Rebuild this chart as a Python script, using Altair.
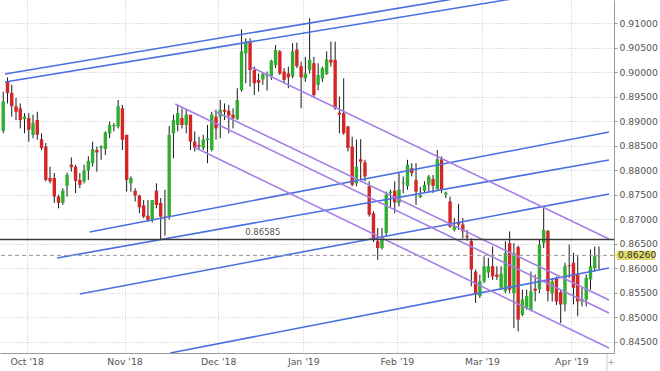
import json
import altair as alt
import pandas as pd

# ---------------- data ----------------
first_bar = -1
opens = [0.8880, 0.8980, 0.8957, 0.8930, 0.8926, 0.8904, 0.8906, 0.8872, 0.8902, 0.8863,
         0.8848, 0.8784, 0.8784, 0.8746, 0.8733, 0.8768, 0.8811, 0.8807, 0.8780, 0.8777,
         0.8799, 0.8814, 0.8841, 0.8845, 0.8843, 0.8875, 0.8889, 0.8889, 0.8926, 0.8872,
         0.8773, 0.8758, 0.8748, 0.8728, 0.8707, 0.8699, 0.8758, 0.8733, 0.8705, 0.8705,
         0.8875, 0.8892, 0.8906, 0.8892, 0.8913, 0.8858, 0.8851, 0.8845, 0.8861, 0.8841,
         0.8909, 0.8909, 0.8923, 0.8921, 0.8913, 0.8904, 0.8963, 0.9038, 0.9062, 0.9004,
         0.8984, 0.8985, 0.8992, 0.8992, 0.9014, 0.9042, 0.9001, 0.8997, 0.8991, 0.9046,
         0.9012, 0.8987, 0.9004, 0.9018, 0.8974, 0.8987, 0.8996, 0.9025, 0.9025, 0.8917,
         0.8916, 0.8889, 0.8848, 0.8773, 0.8822, 0.8816, 0.8767, 0.8712, 0.8655, 0.8641,
         0.8672, 0.8753, 0.8758, 0.8733, 0.8773, 0.8767, 0.8804, 0.8780, 0.8745, 0.8758,
         0.8770, 0.8782, 0.8761, 0.8822, 0.8750, 0.8736, 0.8678, 0.8695, 0.8689, 0.8666,
         0.8655, 0.8593, 0.8543, 0.8573, 0.8591, 0.8604, 0.8587, 0.8560, 0.8553, 0.8651,
         0.8549, 0.8643, 0.8505, 0.8519, 0.8515, 0.8558, 0.8557, 0.8651, 0.8676, 0.8549,
         0.8578, 0.8551, 0.8526, 0.8606, 0.8611, 0.8587, 0.8532, 0.8536, 0.8577, 0.8600,
         0.8624]
highs = [0.8960, 0.8989, 0.8974, 0.8947, 0.8936, 0.8916, 0.8916, 0.8913, 0.8919, 0.8875,
         0.8855, 0.8807, 0.8794, 0.8750, 0.8763, 0.8795, 0.8826, 0.8811, 0.8794, 0.8811,
         0.8828, 0.8858, 0.8848, 0.8851, 0.8879, 0.8899, 0.8896, 0.8943, 0.8933, 0.8872,
         0.8787, 0.8763, 0.8750, 0.8739, 0.8739, 0.8739, 0.8773, 0.8743, 0.8760, 0.8890,
         0.8913, 0.8931, 0.8926, 0.8923, 0.8913, 0.8879, 0.8868, 0.8872, 0.8892, 0.8919,
         0.8923, 0.8943, 0.8936, 0.8933, 0.8926, 0.8967, 0.9087, 0.9069, 0.9069, 0.9011,
         0.8997, 0.8999, 0.9001, 0.9025, 0.9055, 0.9045, 0.9008, 0.9011, 0.9059, 0.9060,
         0.9021, 0.9031, 0.9110, 0.9031, 0.9018, 0.9011, 0.9042, 0.9062, 0.9062, 0.8950,
         0.8987, 0.8890, 0.8868, 0.8862, 0.8863, 0.8821, 0.8777, 0.8716, 0.8682, 0.8682,
         0.8756, 0.8760, 0.8777, 0.8794, 0.8787, 0.8821, 0.8814, 0.8814, 0.8766, 0.8777,
         0.8790, 0.8790, 0.8841, 0.8828, 0.8756, 0.8746, 0.8702, 0.8731, 0.8702, 0.8678,
         0.8661, 0.8597, 0.8587, 0.8624, 0.8621, 0.8644, 0.8604, 0.8604, 0.8655, 0.8675,
         0.8651, 0.8646, 0.8556, 0.8556, 0.8593, 0.8587, 0.8658, 0.8726, 0.8678, 0.8580,
         0.8583, 0.8556, 0.8611, 0.8648, 0.8631, 0.8624, 0.8560, 0.8587, 0.8638, 0.8644,
         0.8644]
lows = [0.8875, 0.8936, 0.8909, 0.8902, 0.8885, 0.8875, 0.8858, 0.8865, 0.8862, 0.8841,
        0.8777, 0.8773, 0.8733, 0.8722, 0.8729, 0.8746, 0.8797, 0.8753, 0.8763, 0.8773,
        0.8780, 0.8807, 0.8797, 0.8821, 0.8831, 0.8865, 0.8879, 0.8885, 0.8841, 0.8756,
        0.8756, 0.8736, 0.8712, 0.8702, 0.8695, 0.8693, 0.8722, 0.8659, 0.8666, 0.8699,
        0.8824, 0.8879, 0.8885, 0.8875, 0.8841, 0.8838, 0.8843, 0.8841, 0.8814, 0.8838,
        0.8862, 0.8865, 0.8902, 0.8875, 0.8885, 0.8902, 0.8960, 0.8977, 0.8970, 0.8953,
        0.8960, 0.8974, 0.8962, 0.8984, 0.9008, 0.8994, 0.8977, 0.8967, 0.8987, 0.9008,
        0.8926, 0.8980, 0.8997, 0.8947, 0.8963, 0.8980, 0.8994, 0.9011, 0.8923, 0.8875,
        0.8872, 0.8838, 0.8767, 0.8767, 0.8777, 0.8777, 0.8705, 0.8653, 0.8617, 0.8638,
        0.8665, 0.8723, 0.8712, 0.8726, 0.8753, 0.8760, 0.8787, 0.8729, 0.8743, 0.8753,
        0.8756, 0.8753, 0.8760, 0.8753, 0.8743, 0.8682, 0.8675, 0.8678, 0.8661, 0.8656,
        0.8563, 0.8529, 0.8539, 0.8570, 0.8580, 0.8576, 0.8576, 0.8556, 0.8549, 0.8549,
        0.8478, 0.8471, 0.8502, 0.8515, 0.8512, 0.8532, 0.8549, 0.8641, 0.8532, 0.8532,
        0.8525, 0.8488, 0.8512, 0.8580, 0.8526, 0.8502, 0.8522, 0.8522, 0.8556, 0.8593,
        0.8597]
closes = [0.8940, 0.8957, 0.8930, 0.8919, 0.8902, 0.8909, 0.8882, 0.8896, 0.8872, 0.8845,
          0.8780, 0.8777, 0.8746, 0.8733, 0.8758, 0.8790, 0.8806, 0.8778, 0.8770, 0.8799,
          0.8819, 0.8843, 0.8836, 0.8848, 0.8877, 0.8892, 0.8892, 0.8930, 0.8862, 0.8780,
          0.8784, 0.8748, 0.8724, 0.8705, 0.8699, 0.8739, 0.8729, 0.8705, 0.8702, 0.8872,
          0.8902, 0.8916, 0.8892, 0.8913, 0.8858, 0.8845, 0.8848, 0.8862, 0.8865, 0.8913,
          0.8885, 0.8923, 0.8919, 0.8911, 0.8906, 0.8943, 0.9042, 0.9062, 0.9004, 0.8977,
          0.8978, 0.8996, 0.8995, 0.9023, 0.9045, 0.8997, 0.8984, 0.8989, 0.9042, 0.9012,
          0.8989, 0.8997, 0.9025, 0.8953, 0.8994, 0.9008, 0.9026, 0.9019, 0.8926, 0.8913,
          0.8875, 0.8845, 0.8770, 0.8807, 0.8817, 0.8787, 0.8709, 0.8658, 0.8641, 0.8665,
          0.8750, 0.8756, 0.8734, 0.8760, 0.8775, 0.8811, 0.8794, 0.8756, 0.8749, 0.8770,
          0.8787, 0.8768, 0.8822, 0.8761, 0.8754, 0.8685, 0.8686, 0.8689, 0.8675, 0.8663,
          0.8597, 0.8546, 0.8573, 0.8604, 0.8604, 0.8583, 0.8582, 0.8589, 0.8631, 0.8556,
          0.8631, 0.8495, 0.8536, 0.8543, 0.8553, 0.8554, 0.8648, 0.8678, 0.8553, 0.8573,
          0.8532, 0.8526, 0.8604, 0.8604, 0.8560, 0.8532, 0.8537, 0.8580, 0.8604, 0.8624,
          0.8626]

month_labels = ["Oct '18", "Nov '18", "Dec '18", "Jan '19", "Feb '19", "Mar '19", "Apr '19"]
month_first_bar = [5, 28, 50, 70, 92, 112, 133]

price_ticks = [0.845, 0.850, 0.855, 0.860, 0.865, 0.870, 0.875,
               0.880, 0.885, 0.890, 0.895, 0.900, 0.905, 0.910]

support_level = [0.86585]
last_price = [0.86260]

# trend lines (bar index / price at both ends)
blue_x1 = [-0.586, -0.586, 19.29, 11.67, 16.98, 38.25]
blue_y1 = [0.89960, 0.89797, 0.86737, 0.86207, 0.85473, 0.84270]
blue_x2 = [141.35, 141.35, 141.35, 141.35, 141.35, 141.35]
blue_y2 = [0.92020, 0.91814, 0.88777, 0.88206, 0.87512, 0.86003]

purple_x1 = [57.21, 39.41, 48.65, 43.80]
purple_y1 = [0.90103, 0.89348, 0.89205, 0.88471]
purple_x2 = [141.35, 141.35, 141.35, 141.35]
purple_y2 = [0.86595, 0.85085, 0.85350, 0.84371]

# ---------------- styling ----------------
GREEN = "#2fae2f"
RED = "#d42626"
BLUE = "#4a6fe0"
PURPLE = "#a67fe6"
FONT = "DejaVu Sans"

n = len(opens)
bars = pd.DataFrame({
    "i": list(range(first_bar, first_bar + n)),
    "open": opens, "high": highs, "low": lows, "close": closes,
})
bars["dir"] = ["up" if c >= o else "down" for o, c in zip(opens, closes)]
bars["body_lo"] = bars[["open", "close"]].min(axis=1)
bars["body_hi"] = bars[["open", "close"]].max(axis=1)

grid_vals = [m - 0.5 for m in month_first_bar]
label_map = {str(v): lab for v, lab in zip(grid_vals, month_labels)}
label_expr = json.dumps(label_map) + "[toString(datum.value)]"

x_scale = alt.Scale(domain=[-0.586, 141.35], nice=False, zero=False)
y_scale = alt.Scale(domain=[0.842695, 0.914691], nice=False, zero=False)

x_axis = alt.Axis(values=grid_vals, labelExpr=label_expr, grid=True, title=None,
                  ticks=False, labelPadding=4, domainColor="#999")
y_axis = alt.Axis(orient="right", values=price_ticks, format=".5f", grid=True,
                  title=None, tickSize=3, labelPadding=2, domainColor="#999")


def X(field):
    return alt.X(field, scale=x_scale, axis=x_axis)


def Y(field):
    return alt.Y(field, scale=y_scale, axis=y_axis)


wicks = alt.Chart(bars).mark_rule(color="#1a1a1a", strokeWidth=1, clip=True).encode(
    x=X("i:Q"), y=Y("low:Q"), y2="high:Q",
)

bodies = alt.Chart(bars).transform_calculate(
    body_top="max(datum.body_hi, datum.body_lo + 0.00018)"
).mark_bar(size=3.4, clip=True).encode(
    x=X("i:Q"), y=Y("body_lo:Q"), y2="body_top:Q",
    color=alt.Color("dir:N", scale=alt.Scale(domain=["up", "down"], range=[GREEN, RED]),
                    legend=None),
)

blue_df = pd.DataFrame({"x1": blue_x1, "y1": blue_y1, "x2": blue_x2, "y2": blue_y2})
purple_df = pd.DataFrame({"x1": purple_x1, "y1": purple_y1, "x2": purple_x2, "y2": purple_y2})

blue_lines = alt.Chart(blue_df).mark_rule(color=BLUE, strokeWidth=1.6, clip=True).encode(
    x=X("x1:Q"), x2="x2:Q", y=Y("y1:Q"), y2="y2:Q",
)
purple_lines = alt.Chart(purple_df).mark_rule(color=PURPLE, strokeWidth=1.6, clip=True).encode(
    x=X("x1:Q"), x2="x2:Q", y=Y("y1:Q"), y2="y2:Q",
)

support_df = pd.DataFrame({"level": support_level, "label_at": [60.0],
                           "text": [f"{support_level[0]:.5f}"]})
support_line = alt.Chart(support_df).mark_rule(color="#3a3a3a", strokeWidth=1.6).encode(
    y=Y("level:Q"),
)
support_text = alt.Chart(support_df).mark_text(
    font=FONT, fontSize=8.5, color="#555", baseline="bottom", dy=-2
).encode(
    x=X("label_at:Q"), y=Y("level:Q"), text="text:N",
)

price_df = pd.DataFrame({"price": last_price, "text": [f"{last_price[0]:.5f}"]})
price_line = alt.Chart(price_df).mark_rule(color="#999", strokeWidth=1, strokeDash=[4, 3]).encode(
    y=Y("price:Q"),
)
price_box = alt.Chart(price_df).transform_calculate(
    lo="datum.price - 0.00095", hi="datum.price + 0.00095"
).mark_rect(color="#e0da68").encode(
    x=alt.value(617), x2=alt.value(655),
    y=Y("lo:Q"), y2="hi:Q",
)
price_ptr = alt.Chart(price_df).mark_point(shape="triangle-left", filled=True, size=22,
                                           color="#e0da68", opacity=1).encode(
    x=alt.value(615.5), y=Y("price:Q"),
)
price_text = alt.Chart(price_df).mark_text(
    font=FONT, fontSize=9.3, color="#333", align="left", baseline="middle"
).encode(
    x=alt.value(618), y=Y("price:Q"), text="text:N",
)

corner_df = pd.DataFrame({"t": ["+"]})
corner_sep = alt.Chart(corner_df).mark_rule(color="#cfcfcf").encode(
    x=alt.value(607), y=alt.value(354), y2=alt.value(371),
)
corner_txt = alt.Chart(corner_df).mark_text(font=FONT, fontSize=9, color="#999",
                                            baseline="middle").encode(
    x=alt.value(611), y=alt.value(362), text="t:N",
)

chart = alt.layer(
    wicks, bodies, blue_lines, purple_lines, support_line, support_text,
    price_line, price_box, price_ptr, price_text, corner_sep, corner_txt,
).properties(
    width=614, height=353,
    padding={"left": 0, "top": 0, "right": 46, "bottom": 18},
    autosize=alt.AutoSizeParams(type="none"),
).configure_view(stroke=None).configure_axis(
    labelFont=FONT, labelFontSize=9.3, labelColor="#555",
    gridColor="#c4c4c4", gridDash=[1, 2], gridWidth=1,
    tickColor="#999",
)

chart.save("out.html", embed_options={"renderer": "svg", "actions": False})
